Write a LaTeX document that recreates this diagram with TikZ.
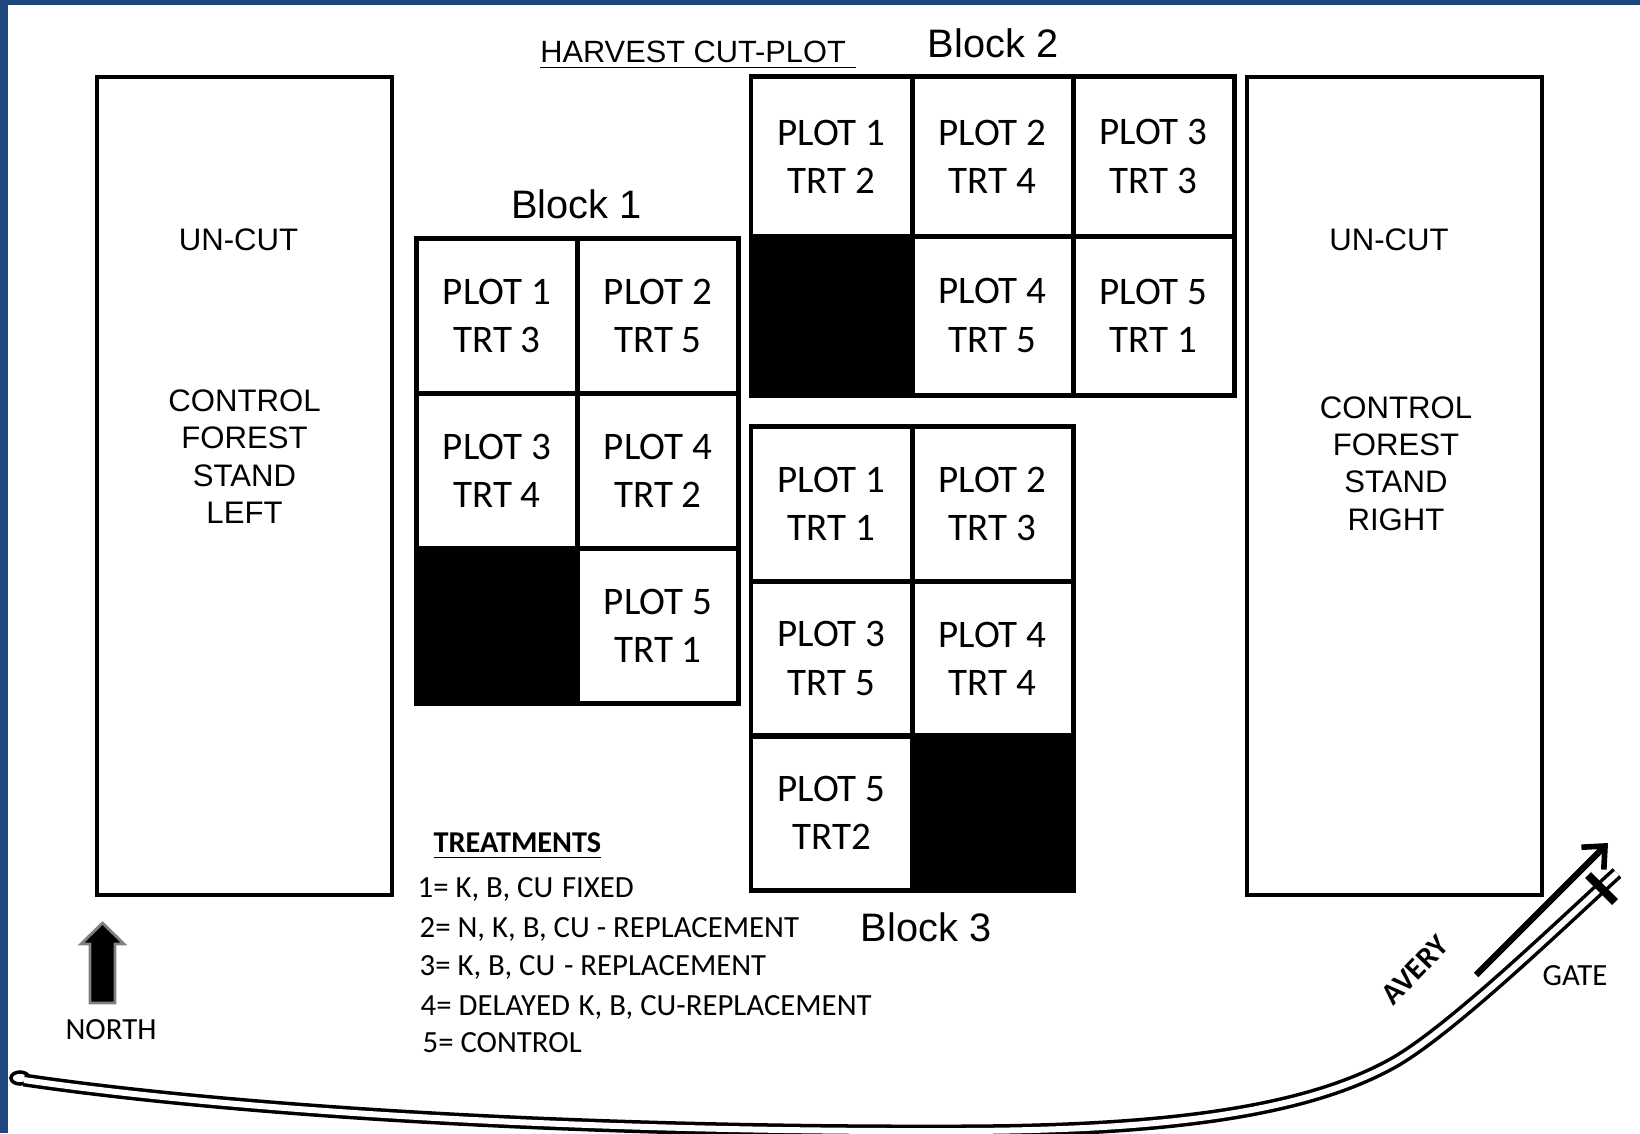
\documentclass[tikz,border=0pt]{standalone}
\usepackage{fontspec}
\setmainfont{Carlito}
\newfontfamily\arialfont{Liberation Sans}
\usetikzlibrary{arrows.meta, positioning}

\definecolor{framecolor}{RGB}{31,73,125}

\tikzset{
    plotcell/.style={draw, line width=1.4pt, minimum width=1.61cm, minimum height=1.55cm, inner sep=0pt, align=center, font=\fontsize{11.1}{13.7}\selectfont},
    tallcell/.style={plotcell, minimum height=1.59cm},
    deadcell/.style={fill=black},
    standbox/.style={draw, line width=1pt, minimum width=2.95cm, minimum height=8.18cm},
    arialtext/.style={inner sep=0pt, align=center, font=\arialfont\fontsize{8.85}{10.6}\selectfont},
    blocktitle/.style={inner sep=0pt, font=\arialfont\fontsize{11.3}{13}\selectfont},
    smalltext/.style={inner sep=0pt, anchor=west, font=\fontsize{8.75}{10}\selectfont},
    boldtext/.style={smalltext, font=\bfseries\fontsize{8.6}{10}\selectfont},
}

\begin{document}
\begin{tikzpicture}[x=0.01cm, y=-0.01cm]
    % Frame
    \fill[white] (0,0) rectangle (1640,1133);
    \fill[framecolor] (0,0) rectangle (8,1133);
    \fill[framecolor] (0,0) rectangle (1640,5);
    \useasboundingbox (0,0) rectangle (1640,1133);

    % Control stands
    \node[standbox] (standleft) at (244.5,486) {};
    \node[standbox] (standright) at (1394.5,486) {};
    \node[arialtext] (uncutleft) at (238.5,239.5) {UN-CUT};
    \node[arialtext] (uncutright) at (1389,239.5) {UN-CUT};
    \node[arialtext] (controlleft) at (244.5,456.5) {CONTROL\\FOREST\\STAND\\LEFT};
    \node[arialtext] (controlright) at (1396,463.5) {CONTROL\\FOREST\\STAND\\RIGHT};

    % Block 1
    \node[plotcell] (a1) at (497,316) {PLOT 1\\TRT 3};
    \node[plotcell] (a2) at (658,316) {PLOT 2\\TRT 5};
    \node[plotcell] (a3) at (497,471) {PLOT 3\\TRT 4};
    \node[plotcell] (a4) at (658,471) {PLOT 4\\TRT 2};
    \node[plotcell, deadcell] (a0) at (497,626) {};
    \node[plotcell] (a5) at (658,626) {PLOT 5\\TRT 1};

    % Block 2
    \node[tallcell] (b1) at (831.5,156.5) {PLOT 1\\TRT 2};
    \node[tallcell] (b2) at (992.5,156.5) {PLOT 2\\TRT 4};
    \node[tallcell] (b3) at (1153.5,156.5) {PLOT 3\\TRT 3};
    \node[tallcell, deadcell] (b0) at (831.5,315.5) {};
    \node[tallcell] (b4) at (992.5,315.5) {PLOT 4\\TRT 5};
    \node[tallcell] (b5) at (1153.5,315.5) {PLOT 5\\TRT 1};

    % Block 3
    \node[plotcell] (c1) at (831.5,504) {PLOT 1\\TRT 1};
    \node[plotcell] (c2) at (992.5,504) {PLOT 2\\TRT 3};
    \node[plotcell] (c3) at (831.5,658.5) {PLOT 3\\TRT 5};
    \node[plotcell] (c4) at (992.5,658.5) {PLOT 4\\TRT 4};
    \node[plotcell] (c5) at (831.5,813) {PLOT 5\\TRT2};
    \node[plotcell, deadcell] (c0) at (992.5,813) {};

    % Titles
    \node[blocktitle] (title1) at (576.5,204) {Block 1};
    \node[blocktitle] (title2) at (993,43) {Block 2};
    \node[blocktitle] (title3) at (926,927) {Block 3};
    \node[arialtext, font=\arialfont\fontsize{8.75}{10.6}\selectfont] (harvest) at (698,55) {\underline{HARVEST CUT-PLOT\kern 2.8pt}};

    % Treatments
    \node[boldtext] (trtitle) at (433,846) {\underline{TREATMENTS}};
    \node[smalltext] (tr1) at (417,889) {1= K, B, CU\kern 0.5pt\ FIXED};
    \node[smalltext] (tr2) at (419,929) {2= N, K, B, CU - REPLACEMENT};
    \node[smalltext] (tr3) at (419,967) {3= K, B, CU\kern 0.5pt\ - REPLACEMENT};
    \node[smalltext] (tr4) at (420,1007) {4= DELAYED\kern 0.5pt\ K, B, CU-REPLACEMENT};
    \node[smalltext] (tr5) at (422,1043) {5= CONTROL};

    % North arrow
    \draw[fill=black, draw=gray, line width=0.8pt] (102.5,923) -- (124,944) -- (115,944) -- (115,1003) -- (90,1003) -- (90,944) -- (81,944) -- cycle;
    \node[smalltext, anchor=center] (north) at (111,1030) {NORTH};

    % Road
    \coordinate (roadstart) at (24,1080);
    \coordinate (roadend) at (1617,873);
    \draw[line width=1pt] (20,1078) ellipse (9 and 6);
    \draw[line width=1pt, double=white, double distance=1.7pt] (roadstart)
        .. controls (250,1113) and (600,1132) .. (950,1131)
        .. controls (1150,1131) and (1300,1115) .. (1393,1063)
        .. controls (1450,1031) and (1560,925) .. (roadend);

    % Gate and direction
    \coordinate (gatea) at (1588,875);
    \coordinate (gateb) at (1615,902);
    \draw[line width=2.4pt] (gatea) -- (gateb);
    \coordinate (avstart) at (1476,975);
    \coordinate (avend) at (1608,843);
    \draw[-{Straight Barb[length=5pt, width=9pt, line width=1.6pt]}, line width=1.8pt] (avstart) -- (avend);
    \node[smalltext, anchor=center] (gatelabel) at (1575,976) {GATE};
    \node[boldtext, anchor=center, rotate=46] (avery) at (1415,970) {AVERY};
\end{tikzpicture}
\end{document}
